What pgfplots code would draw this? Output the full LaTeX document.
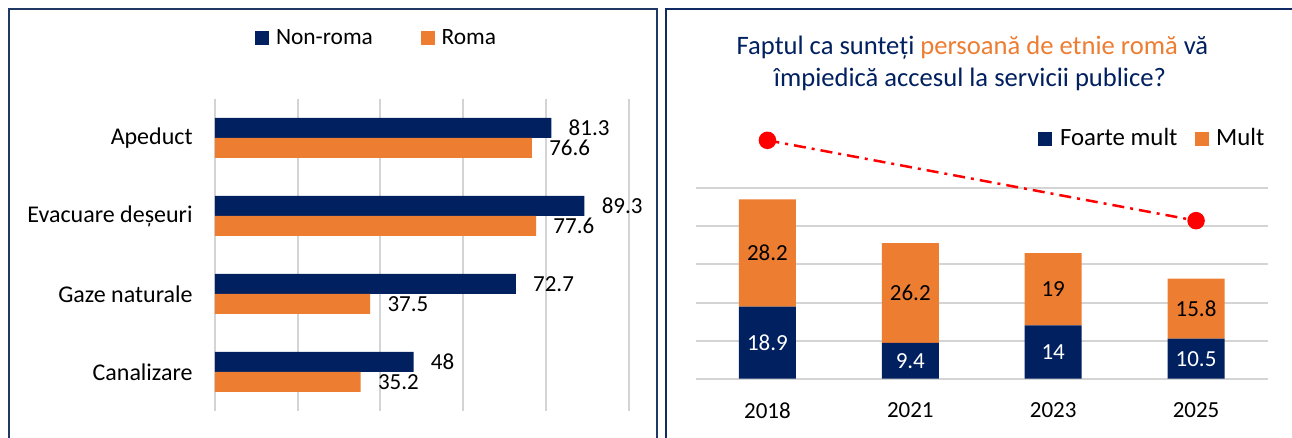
\documentclass[border=0pt]{standalone}
\usepackage{pgfplots}
\pgfplotsset{compat=1.18}
\usepackage{fontspec}
\setmainfont{Carlito}
\definecolor{navy}{HTML}{002060}
\definecolor{orng}{HTML}{ED7D31}
\definecolor{framec}{HTML}{1F3864}
\definecolor{framer}{HTML}{102A63}
\definecolor{gridc}{HTML}{D4D4D4}
\newcommand{\lbl}{\fontsize{11.5}{13.8}\selectfont}
\newcommand{\cat}{\fontsize{12}{14.4}\selectfont}
\newcommand{\leg}{\fontsize{11.7}{14}\selectfont}
\newcommand{\legr}{\fontsize{12.4}{14.8}\selectfont}
\newcommand{\ttl}{\fontsize{13.3}{16}\selectfont}
\begin{document}
\lbl
\begin{tikzpicture}
\path[use as bounding box, fill=white] (0,0) rectangle (646pt,-219pt);
\draw[framec, line width=1pt] (4.5pt,-225pt) -- (4.5pt,-4.4pt) -- (328.4pt,-4.4pt) -- (328.4pt,-225pt);
\draw[framer, line width=1pt] (332.9pt,-225pt) -- (332.9pt,-4.4pt) -- (650pt,-4.4pt);

% ---------- left chart ----------
\begin{axis}[
  at={(107.5pt,-49.5pt)}, anchor=north west,
  scale only axis, width=206.85pt, height=156pt,
  xbar, bar width=10pt,
  xmin=0, xmax=100, ymin=-0.5, ymax=3.5,
  xtick={0,20,40,60,80,100}, xticklabels={},
  xmajorgrids, grid style={gridc, line width=1pt},
  ytick={0,1,2,3},
  yticklabels={Canalizare, Gaze naturale, Evacuare deșeuri, Apeduct},
  yticklabel style={inner sep=0pt, xshift=-11pt, font=\cat, text=black},
  major tick length=0pt,
  axis line style={draw=none},
  /pgf/number format/assume math mode=true,
  nodes near coords,
  every node near coord/.append style={anchor=west, inner sep=0pt, xshift=8.5pt, text=black, font=\lbl},
  legend columns=2,
  legend style={draw=none, fill=none, inner sep=0pt, at={(0.0967,1.194)}, anchor=west,
     font=\leg, nodes={inner sep=0pt},
     /tikz/every odd column/.append style={column sep=3.3pt},
     /tikz/every even column/.append style={column sep=24pt}},
]
\addplot[fill=navy, draw=none, bar shift=5pt,
  legend image code/.code={\fill[navy] (0pt,-3.5pt) rectangle (7pt,3.5pt);}]
  coordinates {(48,0) (72.7,1) (89.3,2) (81.3,3)};
\addplot[fill=orng, draw=none, bar shift=-5pt,
  legend image code/.code={\fill[orng] (0pt,-3.5pt) rectangle (7pt,3.5pt);}]
  coordinates {(35.2,0) (37.5,1) (77.6,2) (76.6,3)};
\legend{Non-roma, Roma}
\end{axis}

% ---------- right chart title ----------
\node[anchor=base, font=\ttl, text=navy, inner sep=0pt] at (486.2pt,-27.15pt)
  {Faptul ca sunteți \textcolor{orng}{persoană de etnie romă} vă};
\node[anchor=base, font=\ttl, text=navy, inner sep=0pt] at (485pt,-43.35pt)
  {împiedică accesul la servicii publice?};

% ---------- right chart ----------
\begin{axis}[
  at={(348pt,-189.35pt)}, anchor=south west,
  scale only axis, width=285.75pt, height=95.2pt,
  ybar stacked, bar width=28.5pt,
  xmin=-0.5, xmax=3.5, ymin=0, ymax=50,
  xtick={0,1,2,3}, xticklabels={2018,2021,2023,2025},
  xticklabel style={inner sep=0pt, yshift=-11.6pt, font=\lbl, text=black},
  ytick={0,10,...,50}, yticklabels={},
  ymajorgrids, grid style={gridc, line width=1pt},
  major tick length=0pt,
  axis line style={draw=none},
  legend columns=2,
  legend style={draw=none, fill=none, inner sep=0pt, at={(0.5985,1.26)}, anchor=west,
     font=\legr, nodes={inner sep=0pt},
     /tikz/every odd column/.append style={column sep=3.8pt},
     /tikz/every even column/.append style={column sep=8.5pt}},
]
\addplot[fill=navy, draw=none,
  legend image code/.code={\fill[navy] (0pt,-3.5pt) rectangle (7pt,3.5pt);}]
  coordinates {(0,18.9) (1,9.4) (2,14) (3,10.5)};
\addplot[fill=orng, draw=none,
  legend image code/.code={\fill[orng] (0pt,-3.5pt) rectangle (7pt,3.5pt);}]
  coordinates {(0,28.2) (1,26.2) (2,19) (3,15.8)};
\legend{Foarte mult, Mult}
\end{axis}

% ---------- overlay: labels and red line ----------
\begin{axis}[
  at={(348pt,-189.35pt)}, anchor=south west,
  scale only axis, width=285.75pt, height=95.2pt,
  xmin=-0.5, xmax=3.5, ymin=0, ymax=50,
  hide axis, clip=false,
]
\addplot[draw=none, mark=none, point meta=explicit symbolic, nodes near coords,
  every node near coord/.append style={anchor=center, inner sep=0pt, text=white, font=\lbl}]
  coordinates {(0,9.45)[18.9] (1,4.7)[9.4] (2,7)[14] (3,5.25)[10.5]};
\addplot[draw=none, mark=none, point meta=explicit symbolic, nodes near coords,
  every node near coord/.append style={anchor=center, inner sep=0pt, text=black, font=\lbl}]
  coordinates {(0,33)[28.2] (1,22.5)[26.2] (2,23.5)[19] (3,18.4)[15.8]};
\addplot[red, line width=1.25pt, dash pattern=on 6pt off 3pt on 1.5pt off 3pt,
  mark=*, mark size=3.75pt, mark options={solid, fill=red}]
  coordinates {(0,62.6) (3,41.5)};
\end{axis}
\end{tikzpicture}
\end{document}
